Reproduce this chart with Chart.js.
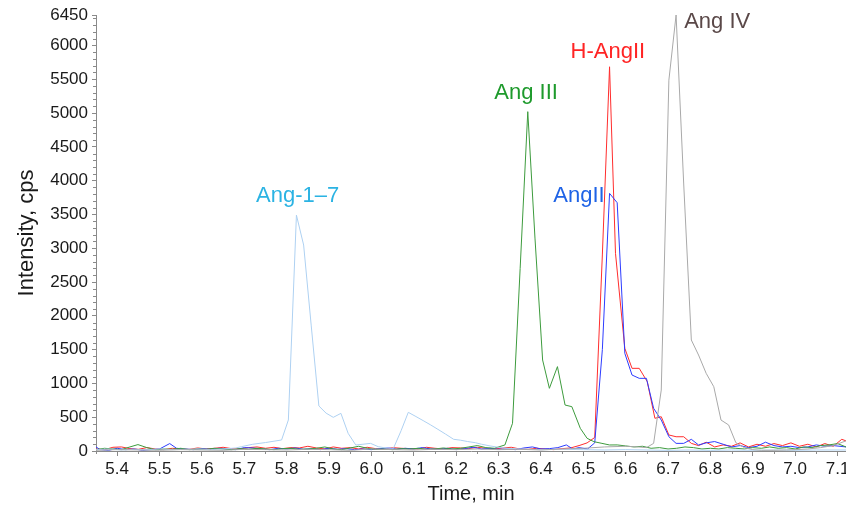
<!DOCTYPE html>
<html>
<head>
<meta charset="utf-8">
<script src="https://cdn.jsdelivr.net/npm/chart.js@4.4.1/dist/chart.umd.min.js"></script>
<style>
html, body { margin: 0; padding: 0; background: #fff; }
canvas { display: block; }
</style>
</head>
<body>
<canvas id="chart" width="846" height="505"></canvas>
<script>
// tick labels
var xTicks = [5.4, 5.5, 5.6, 5.7, 5.8, 5.9, 6.0, 6.1, 6.2, 6.3, 6.4, 6.5, 6.6, 6.7, 6.8, 6.9, 7.0, 7.1];
var yTicks = [0, 500, 1000, 1500, 2000, 2500, 3000, 3500, 4000, 4500, 5000, 5500, 6000, 6450];

// Ang-1-7
var ang17Time = [5.35, 5.38, 5.41, 5.44, 5.47, 5.50, 5.53, 5.56, 5.59, 5.62, 5.65, 5.68, 5.693, 5.72, 5.75, 5.788, 5.804, 5.823, 5.840, 5.858, 5.876, 5.893, 5.910, 5.928, 5.945, 5.963, 5.98, 5.998, 6.016, 6.034, 6.052, 6.07, 6.087, 6.105, 6.122, 6.14, 6.157, 6.175, 6.194, 6.21, 6.227, 6.245, 6.26, 6.28, 6.30, 6.32, 6.35, 6.40, 6.45, 6.50, 6.55, 6.60, 6.65, 6.70, 6.75, 6.80, 6.85, 6.90, 6.95, 7.00, 7.05, 7.12];
var ang17Int = [20, 30, 15, 25, 20, 30, 20, 25, 30, 20, 30, 45, 64, 100, 125, 163, 459, 3490, 3047, 1850, 666, 560, 498, 557, 262, 89, 100, 113, 64, 45, 40, 300, 572, 510, 450, 385, 320, 250, 173, 160, 140, 123, 100, 75, 55, 40, 30, 20, 25, 20, 15, 20, 15, 10, 15, 10, 15, 10, 15, 10, 15, 15];

// Ang III
var ang3Time = [5.35, 5.37, 5.39, 5.41, 5.43, 5.449, 5.47, 5.49, 5.51, 5.53, 5.55, 5.57, 5.59, 5.61, 5.63, 5.65, 5.67, 5.69, 5.71, 5.73, 5.75, 5.77, 5.79, 5.81, 5.83, 5.85, 5.87, 5.89, 5.91, 5.93, 5.95, 5.97, 5.99, 6.01, 6.03, 6.05, 6.07, 6.09, 6.11, 6.13, 6.15, 6.17, 6.19, 6.21, 6.23, 6.25, 6.27, 6.29, 6.315, 6.333, 6.351, 6.369, 6.386, 6.404, 6.420, 6.439, 6.457, 6.473, 6.493, 6.509, 6.525, 6.544, 6.562, 6.58, 6.60, 6.62, 6.64, 6.66, 6.68, 6.70, 6.72, 6.74, 6.76, 6.78, 6.80, 6.82, 6.84, 6.86, 6.88, 6.90, 6.92, 6.94, 6.96, 6.98, 7.00, 7.02, 7.04, 7.06, 7.08, 7.10, 7.12];
var ang3Int = [20, 40, 30, 20, 60, 95, 50, 20, 30, 25, 40, 20, 30, 25, 40, 30, 20, 35, 25, 40, 30, 20, 35, 40, 25, 30, 40, 60, 30, 20, 45, 70, 40, 25, 30, 20, 35, 30, 40, 25, 30, 45, 30, 40, 60, 80, 50, 40, 89, 410, 2700, 5020, 3150, 1346, 927, 1248, 680, 656, 335, 188, 138, 113, 89, 90, 75, 60, 70, 40, 50, 30, 40, 60, 50, 30, 40, 30, 50, 40, 30, 50, 40, 60, 40, 50, 30, 60, 50, 80, 90, 110, 60];

// H-AngII
var hAng2Time = [5.35, 5.37, 5.39, 5.41, 5.43, 5.45, 5.47, 5.49, 5.51, 5.53, 5.55, 5.57, 5.59, 5.61, 5.63, 5.65, 5.67, 5.69, 5.71, 5.73, 5.75, 5.77, 5.79, 5.81, 5.83, 5.85, 5.87, 5.89, 5.91, 5.93, 5.95, 5.97, 5.99, 6.01, 6.03, 6.05, 6.07, 6.09, 6.11, 6.13, 6.15, 6.17, 6.19, 6.21, 6.23, 6.25, 6.27, 6.29, 6.31, 6.33, 6.35, 6.37, 6.39, 6.41, 6.43, 6.45, 6.47, 6.49, 6.509, 6.527, 6.545, 6.562, 6.576, 6.598, 6.615, 6.632, 6.651, 6.669, 6.684, 6.702, 6.719, 6.737, 6.755, 6.772, 6.79, 6.81, 6.83, 6.85, 6.87, 6.89, 6.91, 6.93, 6.95, 6.97, 6.99, 7.01, 7.03, 7.05, 7.07, 7.09, 7.11, 7.12];
var hAng2Int = [30, 20, 55, 60, 35, 25, 50, 30, 20, 40, 30, 25, 45, 30, 40, 55, 35, 30, 50, 60, 40, 55, 35, 50, 45, 70, 45, 30, 60, 40, 50, 30, 55, 35, 25, 50, 40, 35, 30, 55, 40, 30, 50, 45, 35, 55, 40, 30, 45, 55, 30, 25, 40, 30, 20, 35, 45, 80, 120, 200, 2900, 5684, 2924, 1519, 1223, 1223, 1025, 484, 507, 237, 211, 211, 113, 80, 130, 60, 90, 70, 120, 60, 100, 70, 110, 80, 120, 70, 100, 60, 110, 70, 173, 150];

// AngII
var ang2Time = [5.35, 5.36, 5.38, 5.40, 5.42, 5.44, 5.46, 5.48, 5.50, 5.524, 5.54, 5.56, 5.58, 5.60, 5.62, 5.64, 5.66, 5.68, 5.70, 5.72, 5.74, 5.76, 5.78, 5.80, 5.82, 5.84, 5.86, 5.88, 5.90, 5.92, 5.94, 5.96, 5.98, 6.00, 6.02, 6.04, 6.06, 6.08, 6.10, 6.12, 6.14, 6.16, 6.18, 6.20, 6.22, 6.24, 6.26, 6.28, 6.30, 6.32, 6.34, 6.36, 6.38, 6.40, 6.42, 6.44, 6.46, 6.475, 6.49, 6.51, 6.527, 6.545, 6.562, 6.580, 6.598, 6.615, 6.632, 6.649, 6.666, 6.684, 6.702, 6.719, 6.737, 6.755, 6.772, 6.79, 6.81, 6.83, 6.85, 6.87, 6.89, 6.91, 6.93, 6.95, 6.97, 6.99, 7.01, 7.03, 7.05, 7.07, 7.09, 7.12];
var ang2Int = [60, 20, 10, 40, 20, 30, 10, 20, 30, 110, 40, 30, 20, 35, 25, 40, 30, 20, 50, 45, 30, 20, 40, 30, 45, 25, 35, 20, 40, 25, 35, 20, 30, 20, 35, 45, 25, 40, 30, 50, 30, 25, 40, 20, 35, 55, 30, 40, 25, 30, 20, 45, 60, 30, 35, 50, 90, 30, 50, 30, 120, 1500, 3811, 3673, 1445, 1124, 1075, 1075, 631, 458, 211, 113, 113, 173, 89, 120, 140, 100, 60, 80, 50, 70, 130, 80, 60, 70, 50, 60, 90, 70, 80, 60];

// Ang IV
var ang4Time = [5.35, 5.40, 5.45, 5.50, 5.55, 5.60, 5.65, 5.70, 5.75, 5.80, 5.85, 5.90, 5.95, 6.00, 6.05, 6.10, 6.15, 6.20, 6.25, 6.30, 6.35, 6.40, 6.45, 6.50, 6.55, 6.60, 6.63, 6.649, 6.666, 6.684, 6.702, 6.719, 6.737, 6.755, 6.772, 6.790, 6.808, 6.825, 6.843, 6.860, 6.88, 6.90, 6.92, 6.95, 6.98, 7.00, 7.03, 7.06, 7.09, 7.12];
var ang4Int = [10, 20, 15, 10, 20, 15, 10, 25, 20, 15, 25, 20, 10, 30, 20, 15, 25, 20, 30, 20, 25, 15, 30, 40, 60, 70, 60, 50, 113, 902, 5487, 6450, 3950, 1642, 1420, 1149, 951, 458, 385, 123, 50, 20, 10, 10, 15, 20, 30, 50, 80, 150];

var axisColor = '#8a8a8a';
var textColor = '#1a1a1a';
var fontFamily = '"Liberation Sans", Arial, sans-serif';

function toPoints(times, values) {
    return times.map(function (t, i) { return { x: t, y: values[i] }; });
}

var peakLabels = [
    { text: 'Ang-1\u20137', x: 5.826, y: 3770, color: '#2bb3e3' },
    { text: 'Ang III', x: 6.365, y: 5295, color: '#1e9a2c' },
    { text: 'H-AngII', x: 6.558, y: 5900, color: '#ff2424' },
    { text: 'AngII', x: 6.490, y: 3770, color: '#1f63e6' },
    { text: 'Ang IV', x: 6.816, y: 6345, color: '#5a4848' }
];

var labelPlugin = {
    id: 'peakLabels',
    afterDatasetsDraw: function (chart) {
        var ctx = chart.ctx, xs = chart.scales.x, ys = chart.scales.y;
        ctx.save();
        ctx.font = '22px ' + fontFamily;
        ctx.textAlign = 'center';
        ctx.textBaseline = 'middle';
        peakLabels.forEach(function (l) {
            ctx.fillStyle = l.color;
            ctx.fillText(l.text, xs.getPixelForValue(l.x), ys.getPixelForValue(l.y));
        });
        ctx.restore();
    }
};

var minorTickPlugin = {
    id: 'minorTicks',
    afterDraw: function (chart) {
        var ctx = chart.ctx, xs = chart.scales.x, ys = chart.scales.y;
        var area = chart.chartArea;
        ctx.save();
        ctx.strokeStyle = axisColor;
        ctx.lineWidth = 1;
        ctx.beginPath();
        var xMinor = [5.35];
        xTicks.forEach(function (v) { xMinor.push(v + 0.05); });
        xMinor.forEach(function (v) {
            var px = Math.round(xs.getPixelForValue(v)) + 0.5;
            if (px > area.right) return;
            ctx.moveTo(px, area.bottom);
            ctx.lineTo(px, area.bottom + 3);
        });
        for (var v = 100; v < 6450; v += 100) {
            if (v % 500 === 0) continue;
            var py = Math.round(ys.getPixelForValue(v)) + 0.5;
            ctx.moveTo(area.left, py);
            ctx.lineTo(area.left - 3, py);
        }
        ctx.stroke();
        ctx.restore();
    }
};

function lineSet(label, times, values, color) {
    return {
        label: label,
        data: toPoints(times, values),
        borderColor: color,
        borderWidth: 1,
        pointRadius: 0,
        tension: 0,
        fill: false,
        clip: false
    };
}

new Chart(document.getElementById('chart').getContext('2d'), {
    type: 'line',
    data: {
        datasets: [
            lineSet('Ang IV', ang4Time, ang4Int, '#a9a9a9'),
            lineSet('Ang-1-7', ang17Time, ang17Int, '#aed1f2'),
            lineSet('Ang III', ang3Time, ang3Int, '#3d9b3d'),
            lineSet('AngII', ang2Time, ang2Int, '#2d3cff'),
            lineSet('H-AngII', hAng2Time, hAng2Int, '#ff2d2d')
        ]
    },
    options: {
        responsive: false,
        animation: false,
        layout: { padding: { top: 15, right: 0, left: 0, bottom: 0 } },
        plugins: { legend: { display: false }, tooltip: { enabled: false } },
        scales: {
            x: {
                type: 'linear',
                min: 5.35,
                max: 7.12,
                afterBuildTicks: function (scale) {
                    scale.ticks = xTicks.map(function (v) { return { value: v }; });
                },
                afterFit: function (scale) {
                    scale.height = 54;
                    scale.paddingLeft = 0;
                    scale.paddingRight = 0;
                },
                ticks: {
                    color: textColor,
                    font: { family: fontFamily, size: 17 },
                    padding: 3,
                    maxRotation: 0,
                    autoSkip: false,
                    callback: function (v) { return v.toFixed(1); }
                },
                grid: { drawOnChartArea: false, drawTicks: true, tickLength: 5, color: axisColor },
                border: { color: axisColor },
                title: {
                    display: true,
                    text: 'Time, min',
                    color: textColor,
                    font: { family: fontFamily, size: 20, lineHeight: 1.1 },
                    padding: { top: 0, bottom: 0 }
                }
            },
            y: {
                min: 0,
                max: 6450,
                afterBuildTicks: function (scale) {
                    scale.ticks = yTicks.map(function (v) { return { value: v }; });
                },
                afterFit: function (scale) {
                    scale.width = 96;
                    scale.paddingTop = 0;
                    scale.paddingBottom = 0;
                },
                ticks: {
                    color: textColor,
                    font: { family: fontFamily, size: 17 },
                    padding: 4,
                    autoSkip: false,
                    callback: function (v) { return String(v); }
                },
                grid: { drawOnChartArea: false, drawTicks: true, tickLength: 4, color: axisColor },
                border: { color: axisColor },
                title: {
                    display: true,
                    text: 'Intensity, cps',
                    color: textColor,
                    font: { family: fontFamily, size: 22, lineHeight: 1.2 },
                    padding: { top: 14, bottom: 0 }
                }
            }
        }
    },
    plugins: [labelPlugin, minorTickPlugin]
});
</script>
</body>
</html>
